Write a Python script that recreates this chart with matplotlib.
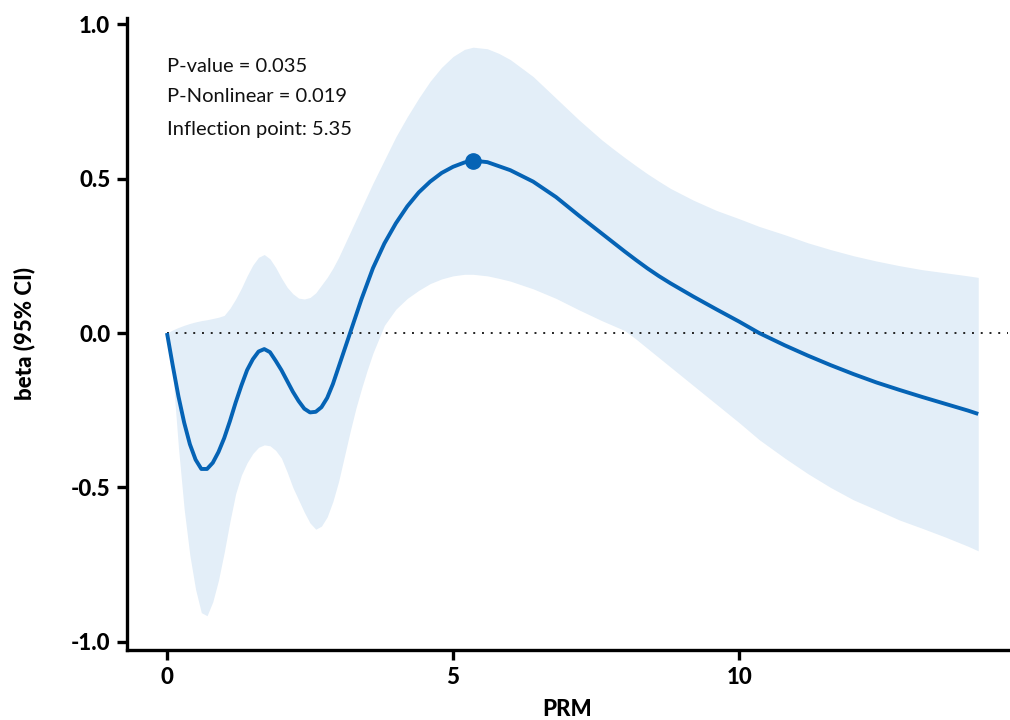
import matplotlib
matplotlib.use("Agg")
import matplotlib.pyplot as plt

plt.rcParams['font.family'] = ['Lato', 'DejaVu Sans']

# PRM values (x) at which the curve and CI were read
prm = [0.0, 0.1, 0.2, 0.3, 0.4, 0.5, 0.6, 0.7, 0.8, 0.9,
       1.0, 1.1, 1.2, 1.3, 1.4, 1.5, 1.6, 1.7, 1.8, 1.9,
       2.0, 2.1, 2.2, 2.3, 2.4, 2.5, 2.6, 2.7, 2.8, 2.9,
       3.0, 3.1, 3.2, 3.3, 3.4, 3.5, 3.6, 3.8, 4.0, 4.2,
       4.4, 4.6, 4.8, 5.0, 5.2, 5.35, 5.6, 5.8, 6.0, 6.4,
       6.8, 7.2, 7.6, 7.8, 8.0, 8.2, 8.4, 8.6, 8.8, 9.2, 9.6, 10.0, 10.35,
       10.8, 11.2, 11.6, 12.0, 12.4, 12.8, 13.2, 13.6, 14.0, 14.18]

beta = [0.0, -0.105, -0.205, -0.29, -0.36, -0.41, -0.44, -0.44, -0.42, -0.385,
        -0.34, -0.285, -0.225, -0.17, -0.12, -0.085, -0.06, -0.052, -0.062, -0.09,
        -0.12, -0.155, -0.19, -0.22, -0.245, -0.257, -0.255, -0.24, -0.21, -0.165,
        -0.11, -0.055, 0.0, 0.055, 0.11, 0.16, 0.21, 0.29, 0.355, 0.41,
        0.455, 0.49, 0.518, 0.538, 0.552, 0.558, 0.553, 0.54, 0.527, 0.49,
        0.44, 0.38, 0.322, 0.293, 0.264, 0.236, 0.209, 0.184, 0.161, 0.118, 0.077, 0.037, 0.0,
        -0.04, -0.073, -0.104, -0.133, -0.16, -0.184, -0.207, -0.229, -0.251, -0.262]

ci_upper = [0.0, 0.01, 0.018, 0.025, 0.031, 0.036, 0.04, 0.043, 0.047, 0.051,
            0.057, 0.08, 0.11, 0.145, 0.185, 0.22, 0.245, 0.254, 0.24, 0.212,
            0.178, 0.148, 0.127, 0.113, 0.11, 0.115, 0.13, 0.155, 0.18, 0.21,
            0.245, 0.285, 0.325, 0.365, 0.405, 0.445, 0.485, 0.56, 0.635, 0.70,
            0.76, 0.815, 0.86, 0.895, 0.918, 0.925, 0.92, 0.905, 0.885, 0.83,
            0.76, 0.69, 0.625, 0.596, 0.568, 0.541, 0.515, 0.491, 0.468, 0.43, 0.397, 0.37, 0.345,
            0.318, 0.292, 0.27, 0.25, 0.233, 0.218, 0.205, 0.195, 0.185, 0.18]

ci_lower = [0.0, -0.13, -0.37, -0.57, -0.72, -0.83, -0.905, -0.915, -0.87, -0.80,
            -0.71, -0.61, -0.52, -0.46, -0.42, -0.39, -0.37, -0.362, -0.365, -0.38,
            -0.405, -0.45, -0.50, -0.54, -0.58, -0.615, -0.635, -0.625, -0.595, -0.545,
            -0.48, -0.40, -0.32, -0.245, -0.18, -0.12, -0.065, 0.025, 0.077, 0.112,
            0.138, 0.16, 0.175, 0.185, 0.19, 0.19, 0.185, 0.177, 0.168, 0.143,
            0.112, 0.075, 0.04, 0.024, 0.008, -0.02, -0.05, -0.08, -0.11, -0.17, -0.23, -0.29, -0.345,
            -0.405, -0.455, -0.50, -0.54, -0.572, -0.605, -0.632, -0.66, -0.69, -0.705]

inflection_x = 5.35
inflection_y = 0.558

x_ticks = [0, 5, 10]
y_ticks = [-1.0, -0.5, 0.0, 0.5, 1.0]
y_tick_labels = ['-1.0', '-0.5', '0.0', '0.5', '1.0']

annotations = ['P-value = 0.035', 'P-Nonlinear = 0.019', 'Inflection point: 5.35']
annotation_y = [0.861, 0.764, 0.66]

line_color = '#0563B5'
band_color = '#E3EEF8'

fig = plt.figure(figsize=(10.1, 7.2), dpi=100)
ax = fig.add_axes([0.1257, 0.0972, 0.8723, 0.878])

ax.fill_between(prm, ci_lower, ci_upper, color=band_color, linewidth=0, zorder=1)
ax.plot([0, 14.7], [0, 0], linestyle=(0, (1, 3.5)), color='#222222', linewidth=1.4, zorder=2)
ax.plot(prm, beta, color=line_color, linewidth=2.8, solid_joinstyle='round',
        solid_capstyle='butt', zorder=3)
ax.plot([inflection_x], [inflection_y], 'o', color=line_color, markersize=11, zorder=4)

for txt, yy in zip(annotations, annotation_y):
    ax.text(0.0, yy, txt, fontsize=14.5, va='center', ha='left', color='#111111')

ax.set_xlim(-0.70, 14.70)
ax.set_ylim(-1.026, 1.02)
ax.set_xticks(x_ticks)
ax.set_xticklabels([str(t) for t in x_ticks])
ax.set_yticks(y_ticks)
ax.set_yticklabels(y_tick_labels)

for s in ['top', 'right']:
    ax.spines[s].set_visible(False)
for s in ['left', 'bottom']:
    ax.spines[s].set_linewidth(2.4)

ax.tick_params(axis='both', direction='out', length=7, width=2.4, labelsize=16,
               pad=5, colors='black')
for lab in ax.get_xticklabels() + ax.get_yticklabels():
    lab.set_fontweight('black')

ax.set_xlabel('PRM', fontsize=16, fontweight='black')
ax.set_ylabel('beta (95% CI)', fontsize=16, fontweight='black')
ax.xaxis.set_label_coords(0.5, -0.078)
ax.yaxis.set_label_coords(-0.104, 0.5)

fig.savefig('out.png', dpi=100)
